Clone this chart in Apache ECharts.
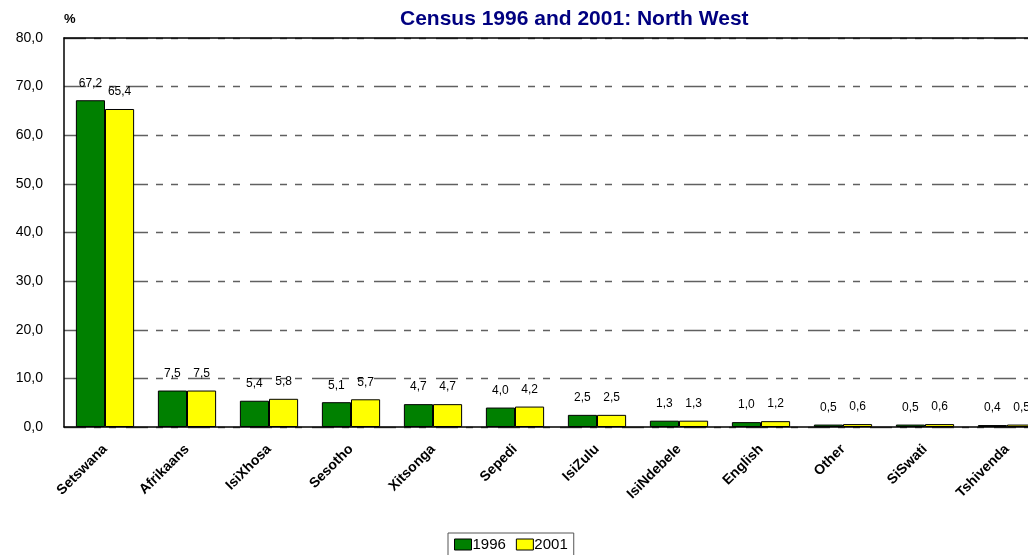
<!DOCTYPE html>
<html>
<head>
<meta charset="utf-8">
<script src="https://cdn.jsdelivr.net/npm/echarts@6/dist/echarts.min.js"></script>
<style>
  html, body { margin: 0; padding: 0; background: #fff; }
  #chart { width: 1028px; height: 555px; }
</style>
</head>
<body>
<div id="chart"></div>
<script>
var languages = ['Setswana', 'Afrikaans', 'IsiXhosa', 'Sesotho', 'Xitsonga', 'Sepedi', 'IsiZulu', 'IsiNdebele', 'English', 'Other', 'SiSwati', 'Tshivenda'];
var y1996 = [67.2, 7.5, 5.4, 5.1, 4.7, 4.0, 2.5, 1.3, 1.0, 0.5, 0.5, 0.4];
var y2001 = [65.4, 7.5, 5.8, 5.7, 4.7, 4.2, 2.5, 1.3, 1.2, 0.6, 0.6, 0.5];

function comma(v) {
  return Number(v).toFixed(1).replace('.', ',');
}

var myChart = echarts.init(document.getElementById('chart'));

var barLabel = {
  show: true,
  position: 'top',
  distance: 11,
  color: '#000',
  fontSize: 12,
  fontFamily: 'Liberation Sans, Arial, sans-serif',
  formatter: function (p) { return comma(p.value); }
};

var option = {
  animation: false,
  textStyle: { fontFamily: 'Liberation Sans, Arial, sans-serif' },
  title: {
    text: 'Census 1996 and 2001: North West',
    left: 395,
    top: 4,
    textStyle: { color: '#000080', fontSize: 21, fontWeight: 'bold', fontFamily: 'Liberation Sans, Arial, sans-serif' }
  },
  legend: {
    bottom: -2,
    left: 448,
    icon: 'rect',
    itemWidth: 17,
    itemHeight: 11,
    itemGap: 10,
    padding: [4, 6, 5, 6],
    borderColor: '#555',
    borderWidth: 1,
    borderRadius: 0,
    textStyle: { fontSize: 15, color: '#000', padding: [0, 0, 0, -4] },
    data: [
      { name: '1996', itemStyle: { color: '#008000', borderColor: '#000', borderWidth: 1 } },
      { name: '2001', itemStyle: { color: '#ffff00', borderColor: '#000', borderWidth: 1 } }
    ]
  },
  grid: {
    left: 64,
    width: 984,
    top: 38,
    height: 389,
    containLabel: false,
    outerBoundsMode: 'none'
  },
  xAxis: [
    {
      type: 'category',
      data: languages,
      axisLine: { lineStyle: { color: '#000', width: 1.5 } },
      axisTick: { show: false },
      axisLabel: {
        rotate: 45,
        interval: 0,
        fontSize: 14,
        fontWeight: 'bold',
        color: '#000',
        margin: 20,
        padding: [0, 0, 0, 0]
      }
    },
    {
      type: 'category',
      position: 'top',
      data: languages,
      axisLine: { show: true, lineStyle: { color: '#000', width: 1.5 } },
      axisTick: { show: false },
      axisLabel: { show: false },
      splitLine: { show: false }
    }
  ],
  yAxis: {
    type: 'value',
    min: 0,
    max: 80,
    interval: 10,
    name: '%',
    nameLocation: 'end',
    nameGap: 12,
    nameTextStyle: { fontSize: 13, fontWeight: 'bold', color: '#000', align: 'left' },
    axisLine: { show: true, lineStyle: { color: '#000', width: 1.5 } },
    axisTick: { show: false },
    axisLabel: {
      fontSize: 14,
      color: '#000',
      margin: 21,
      formatter: function (v) { return comma(v); }
    },
    splitLine: {
      show: true,
      lineStyle: { color: '#606060', width: 1.3, type: [22, 8, 7, 8, 7, 10] }
    }
  },
  series: [
    {
      name: '1996',
      type: 'bar',
      data: y1996,
      barGap: '0%',
      barCategoryGap: '29%',
      itemStyle: { color: '#008000', borderColor: '#000', borderWidth: 1 },
      label: barLabel
    },
    {
      name: '2001',
      type: 'bar',
      data: y2001,
      itemStyle: { color: '#ffff00', borderColor: '#000', borderWidth: 1 },
      label: barLabel
    }
  ]
};

myChart.setOption(option);
</script>
</body>
</html>
